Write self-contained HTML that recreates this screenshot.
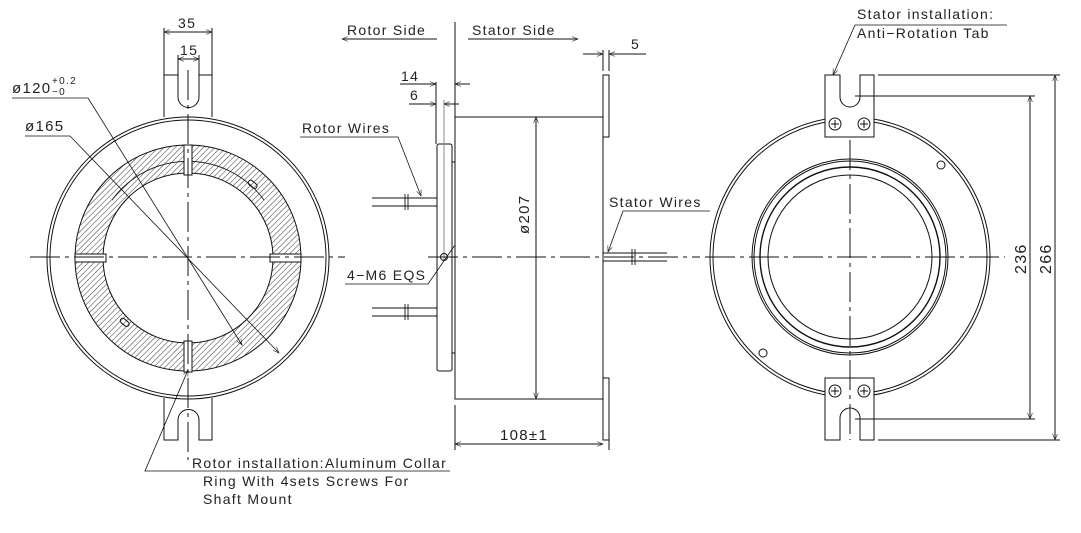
<!DOCTYPE html>
<html><head><meta charset="utf-8"><style>
html,body{margin:0;padding:0;background:#fff;}
svg{display:block;}
text{font-family:"Liberation Sans",sans-serif;font-size:14px;fill:#222;letter-spacing:1.3px;}
</style></head><body>
<svg width="1081" height="533" viewBox="0 0 1081 533" xmlns="http://www.w3.org/2000/svg">
<defs>
<pattern id="h" patternUnits="userSpaceOnUse" width="4" height="4" patternTransform="rotate(45)">
<line x1="0" y1="0" x2="0" y2="4" stroke="#222" stroke-width="0.9"/>
</pattern>
<marker id="a" viewBox="0 0 10 10" refX="10" refY="5" markerWidth="10" markerHeight="6" orient="auto-start-reverse" markerUnits="userSpaceOnUse">
<path d="M0,1 L10,5 L0,9" fill="none" stroke="#222" stroke-width="1"/>
</marker>
</defs>
<g fill="none" stroke="#111" stroke-width="1">
<!-- LEFT VIEW -->
<circle cx="188" cy="258" r="141"/>
<circle cx="188" cy="258" r="138"/>
<path d="M188,145 a113,113 0 1,0 0.01,0 Z M188,173 a85,85 0 1,1 -0.01,0 Z" fill="url(#h)" fill-rule="evenodd" stroke="none"/>
<circle cx="188" cy="258" r="113"/>
<circle cx="188" cy="258" r="85"/>
<path d="M112,200 A94,94 0 0 1 264,200" stroke-width="0.8"/>
<g fill="#fff">
<rect x="184" y="145" width="8" height="30"/><rect x="184" y="341" width="8" height="31"/>
<rect x="75" y="254" width="31" height="8"/><rect x="270" y="254" width="31" height="8"/>
</g>
<rect x="248" y="182" width="10" height="5" rx="2.5" transform="rotate(40 253 184)"/>
<rect x="120" y="320" width="10" height="5" rx="2.5" transform="rotate(40 125 322)"/>
<path d="M164,117 V75 H178 V97 A10.5,10.5 0 0 0 199,97 V75 H212 V117"/>
<path d="M164,398 V440 H178 V420 A10.5,10.5 0 0 1 199,420 V440 H212 V398"/>
<line x1="30" y1="257" x2="345" y2="257" stroke-dasharray="30,5,4,5"/>
<line x1="188" y1="70" x2="188" y2="460" stroke-dasharray="30,5,4,5"/>
<line x1="164" y1="28" x2="164" y2="75"/><line x1="212" y1="28" x2="212" y2="75"/>
<line x1="164" y1="32" x2="212" y2="32" marker-start="url(#a)" marker-end="url(#a)"/>
<line x1="178" y1="55" x2="178" y2="75"/><line x1="199" y1="55" x2="199" y2="75"/>
<line x1="178" y1="59" x2="199" y2="59" marker-start="url(#a)" marker-end="url(#a)"/>
<polyline points="12,98 88,98 242,345" marker-end="url(#a)" stroke-width="0.8"/>
<polyline points="25,136 70,136 279,353" marker-end="url(#a)" stroke-width="0.8"/>
<polyline points="450,471 145,471 188,370" marker-end="url(#a)" stroke-width="0.8"/>

<!-- MIDDLE VIEW -->
<line x1="455" y1="22" x2="455" y2="117"/>
<polyline points="437,39 342,39" marker-end="url(#a)"/>
<polyline points="468,39 578,39" marker-end="url(#a)"/>
<rect x="455" y="117" width="148" height="282"/>
<rect x="603" y="75" width="6" height="62"/>
<rect x="603" y="378" width="6" height="62"/>
<rect x="437" y="144" width="15" height="227" rx="2"/>
<rect x="452" y="162" width="3" height="191"/>
<line x1="444" y1="100" x2="444" y2="260" stroke="#888"/>
<line x1="436" y1="82" x2="436" y2="144"/>
<line x1="400" y1="84" x2="436" y2="84" marker-end="url(#a)"/><line x1="470" y1="84" x2="455" y2="84" marker-end="url(#a)"/>
<line x1="409" y1="104" x2="436" y2="104" marker-end="url(#a)"/><line x1="459" y1="104" x2="444" y2="104" marker-end="url(#a)"/>
<line x1="603" y1="50" x2="603" y2="71"/><line x1="609" y1="50" x2="609" y2="71"/>
<line x1="583" y1="54" x2="603" y2="54" marker-end="url(#a)"/><line x1="646" y1="54" x2="609" y2="54" marker-end="url(#a)"/>
<g stroke-width="0.9">
<line x1="372" y1="198" x2="437" y2="198"/><line x1="372" y1="206" x2="437" y2="206"/>
<line x1="405" y1="194" x2="405" y2="210"/><line x1="408" y1="194" x2="408" y2="210"/>
<line x1="372" y1="308" x2="437" y2="308"/><line x1="372" y1="316" x2="437" y2="316"/>
<line x1="405" y1="304" x2="405" y2="320"/><line x1="408" y1="304" x2="408" y2="320"/>
<line x1="603" y1="253" x2="667" y2="253"/><line x1="603" y1="261" x2="667" y2="261"/>
<line x1="632" y1="249" x2="632" y2="265"/><line x1="635" y1="249" x2="635" y2="265"/>
</g>
<polyline points="300,137 398,137 421,196" marker-end="url(#a)" stroke-width="0.8"/>
<polyline points="710,211 623,211 608,252" marker-end="url(#a)" stroke-width="0.8"/>
<polyline points="345,284 428,284 455,245" stroke-width="0.8"/>
<circle cx="444" cy="257" r="3.5"/>
<line x1="536" y1="117" x2="536" y2="399" marker-start="url(#a)" marker-end="url(#a)"/>
<line x1="428" y1="257" x2="700" y2="257" stroke-dasharray="30,5,4,5"/>
<line x1="455" y1="405" x2="455" y2="450"/><line x1="609" y1="440" x2="609" y2="450"/>
<line x1="455" y1="444" x2="603" y2="444" marker-start="url(#a)" marker-end="url(#a)"/>

<!-- RIGHT VIEW -->
<circle cx="850" cy="257" r="140"/>
<circle cx="850" cy="257" r="137"/>
<circle cx="850" cy="257" r="98"/>
<circle cx="850" cy="257" r="96"/>
<circle cx="850" cy="257" r="90" stroke-width="1.4"/>
<circle cx="850" cy="257" r="82"/>
<circle cx="941" cy="165" r="4"/>
<circle cx="763" cy="353" r="4"/>
<path d="M825,75 H840 V97 A10,10 0 0 0 860,97 V75 H874 V137 H825 Z" fill="#fff"/>
<path d="M825,440 H840 V418 A10,10 0 0 1 860,418 V440 H874 V378 H825 Z" fill="#fff"/>
<g stroke-width="1">
<circle cx="835" cy="124" r="6"/><circle cx="864" cy="124" r="6"/>
<circle cx="835" cy="391" r="6"/><circle cx="864" cy="391" r="6"/>
<path d="M831,124h8M835,120v8M860,124h8M864,120v8M831,391h8M835,387v8M860,391h8M864,387v8"/>
</g>
<line x1="705" y1="257" x2="1005" y2="257" stroke-dasharray="30,5,4,5"/>
<line x1="850" y1="140" x2="850" y2="440" stroke-dasharray="30,5,4,5"/>
<line x1="878" y1="75" x2="1060" y2="75"/><line x1="878" y1="440" x2="1060" y2="440"/>
<line x1="855" y1="96" x2="1035" y2="96"/><line x1="855" y1="419" x2="1035" y2="419"/>
<line x1="1055" y1="75" x2="1055" y2="440" marker-start="url(#a)" marker-end="url(#a)"/>
<line x1="1030" y1="96" x2="1030" y2="419" marker-start="url(#a)" marker-end="url(#a)"/>
<polyline points="1007,25 855,25 833,75" marker-end="url(#a)" stroke-width="0.8"/>
</g>
<text x="178" y="28">35</text>
<text x="180" y="55">15</text>
<text x="12" y="93" style="font-size:15px">ø120</text><text x="52" y="84" style="font-size:10px">+0.2</text><text x="52" y="95" style="font-size:10px">−0</text>
<text x="25" y="131" style="font-size:15px">ø165</text>
<text x="192" y="468">Rotor  installation:Aluminum  Collar</text>
<text x="203" y="486">Ring  With  4sets  Screws  For</text>
<text x="203" y="504">Shaft  Mount</text>
<text x="347" y="35">Rotor  Side</text>
<text x="472" y="35">Stator  Side</text>
<text x="631" y="49">5</text>
<text x="401" y="81">14</text>
<text x="410" y="100">6</text>
<text x="302" y="133">Rotor  Wires</text>
<text x="347" y="280">4−M6  EQS</text>
<text x="609" y="207">Stator  Wires</text>
<text x="0" y="0" transform="translate(529,234) rotate(-90)" style="font-size:15px">ø207</text>
<text x="500" y="440" style="font-size:15px">108±1</text>
<text x="857" y="19">Stator  installation:</text>
<text x="857" y="38">Anti−Rotation  Tab</text>
<text x="0" y="0" transform="translate(1026,274) rotate(-90)" style="font-size:16px">236</text>
<text x="0" y="0" transform="translate(1051,274) rotate(-90)" style="font-size:16px">266</text>
</svg>
</body></html>
